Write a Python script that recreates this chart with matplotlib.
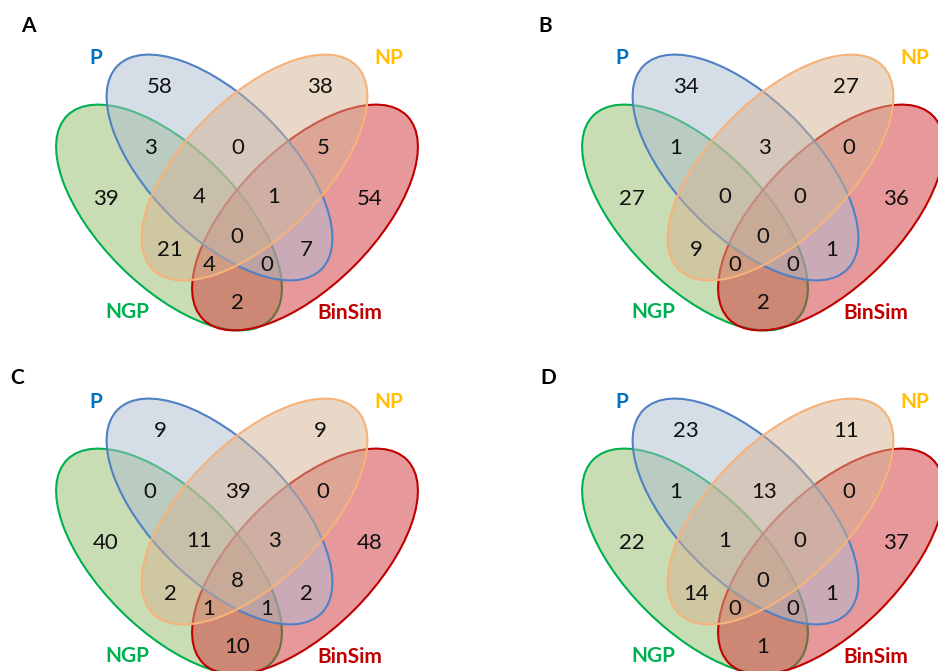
import matplotlib
matplotlib.use("Agg")
import matplotlib.pyplot as plt
from matplotlib.patches import Ellipse

plt.rcParams['font.family'] = ['Lato', 'DejaVu Sans']

# region order: P, NP, NGP, BinSim, NGP&P, P&NP, NP&BinSim, NGP&P&NP, P&NP&BinSim,
# all, NGP&NP, P&BinSim, NGP&NP&BinSim, NGP&P&BinSim, NGP&BinSim
panel_letters = ["A", "B", "C", "D"]
counts_A = [58, 38, 39, 54, 3, 0, 5, 4, 1, 0, 21, 7, 4, 0, 2]
counts_B = [34, 27, 27, 36, 1, 3, 0, 0, 0, 0, 9, 1, 0, 0, 2]
counts_C = [9, 9, 40, 48, 0, 39, 0, 11, 3, 8, 2, 2, 1, 1, 10]
counts_D = [23, 11, 22, 37, 1, 13, 0, 1, 0, 0, 14, 1, 0, 0, 1]
set_names = ["NGP", "BinSim", "P", "NP"]  # drawing order

# layout (pixels, relative to panel origin)
region_xy = [(160, 87), (320, 87), (106, 199), (370, 199), (150, 148), (238, 148),
             (323, 148), (199, 197), (274, 197), (237, 237), (170, 250), (306, 250),
             (209, 265), (267, 265), (237, 303)]
ell_center = {"NGP": (169, 217.5), "P": (219.5, 167.5), "NP": (254.5, 167.5), "BinSim": (305, 217.5)}
ell_angle = {"NGP": 45, "P": 45, "NP": -45, "BinSim": -45}
ell_face = {"NGP": "#93BD69", "P": "#ADBDD1", "NP": "#D5B391", "BinSim": "#D13339"}
ell_edge = {"NGP": "#00B050", "P": "#4F81C4", "NP": "#F7B27A", "BinSim": "#C00000"}
name_xy = {"NGP": (127, 312), "P": (96, 58), "NP": (389, 58), "BinSim": (350, 313)}
name_col = {"NGP": "#00B050", "P": "#0070C0", "NP": "#FFC000", "BinSim": "#C00000"}
origins = [(0, 0), (526, 0), (0, 344), (526, 344)]
letter_xy = [(28, 26), (545, 26), (17, 378), (548, 378)]

fig = plt.figure(figsize=(9.38, 6.71), dpi=100)
ax = fig.add_axes([0, 0, 1, 1])
ax.set_xlim(0, 938)
ax.set_ylim(671, 0)
ax.axis("off")

for k, counts in enumerate([counts_A, counts_B, counts_C, counts_D]):
    ox, oy = origins[k]
    for name in set_names:
        cx, cy = ell_center[name]
        ax.add_patch(Ellipse((ox + cx, oy + cy), 288, 138, angle=ell_angle[name],
                             facecolor=ell_face[name], alpha=0.5, edgecolor="none"))
        ax.add_patch(Ellipse((ox + cx, oy + cy), 288, 138, angle=ell_angle[name],
                             facecolor="none", edgecolor=ell_edge[name], lw=1.5))
        nx, ny = name_xy[name]
        ax.text(ox + nx, oy + ny, name, color=name_col[name], fontsize=15,
                fontweight="bold", ha="center", va="center")
    for (x, y), v in zip(region_xy, counts):
        ax.text(ox + x, oy + y, str(v), fontsize=16, ha="center", va="center", color="#111111")
    lx, ly = letter_xy[k]
    ax.text(lx, ly, panel_letters[k], fontsize=15, fontweight="bold", ha="center", va="center")

fig.savefig("out.png", dpi=100)
